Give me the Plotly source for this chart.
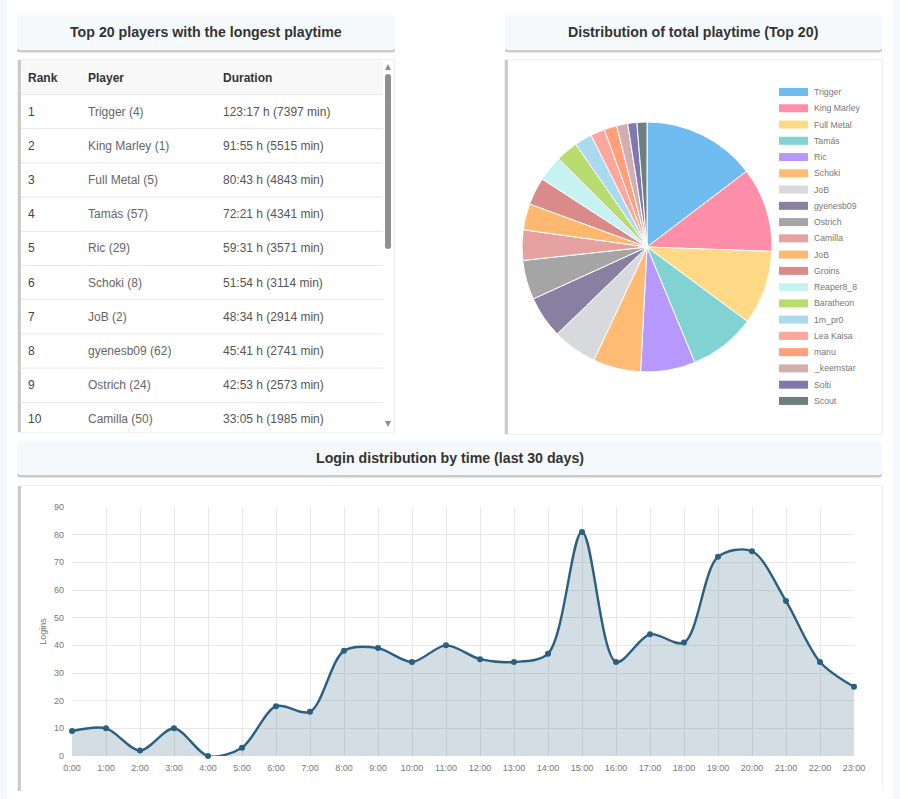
import plotly.graph_objects as go

# table (only rows visible without scrolling)
ranks = ["1", "2", "3", "4", "5", "6", "7", "8", "9", "10"]
players = ["Trigger (4)", "King Marley (1)", "Full Metal (5)", "Tamás (57)", "Ric (29)",
           "Schoki (8)", "JoB (2)", "gyenesb09 (62)", "Ostrich (24)", "Camilla (50)"]
durations = ["123:17 h (7397 min)", "91:55 h (5515 min)", "80:43 h (4843 min)", "72:21 h (4341 min)",
             "59:31 h (3571 min)", "51:54 h (3114 min)", "48:34 h (2914 min)", "45:41 h (2741 min)",
             "42:53 h (2573 min)", "33:05 h (1985 min)"]

# pie
pie_labels = ["Trigger", "King Marley", "Full Metal", "Tamás", "Ric", "Schoki", "JoB", "gyenesb09",
              "Ostrich", "Camilla", "JoB", "Groins", "Reaper8_8", "Baratheon", "1m_pr0", "Lea Kaisa",
              "manu", "_keemstar", "Solti", "Scout"]
pie_minutes = [7397, 5515, 4843, 4341, 3571, 3114, 2914, 2741, 2573, 1985,
               1710, 1800, 1690, 1440, 1140, 930, 830, 720, 600, 650]
pie_colors = ["#70bbef", "#ff8fa8", "#ffd985", "#81d2d2", "#b799fe", "#ffba74", "#d8d9dd", "#8980a1",
              "#a5a5a5", "#e5a0a0", "#ffb870", "#db8a8a", "#c6f3f1", "#b9dc6e", "#a9daf0", "#ffa69e",
              "#ffa07a", "#d2aeb0", "#8278b0", "#6c8080"]

# logins per hour
hours = [f"{h}:00" for h in range(24)]
logins = [9, 10, 2, 10, 0, 3, 18, 16, 38, 39, 34, 40, 35, 34, 37, 81, 34, 44, 41, 72, 74, 56, 34, 25]

# page keeps its 8px body margin, so the figure is the window minus that
W, H = 884, 783
OFF = 8
FONT = "Liberation Sans, Arial, sans-serif"


def px(x):
    return (x - OFF) / W


def py(y):
    return 1 - (y - OFF) / H


def rect(x0, y0, x1, y1, fill, r=0):
    # rounded box in pixel coordinates of the screenshot
    if r:
        path = (f"M{px(x0 + r)},{py(y0)} L{px(x1 - r)},{py(y0)} Q{px(x1)},{py(y0)} {px(x1)},{py(y0 + r)} "
                f"L{px(x1)},{py(y1 - r)} Q{px(x1)},{py(y1)} {px(x1 - r)},{py(y1)} "
                f"L{px(x0 + r)},{py(y1)} Q{px(x0)},{py(y1)} {px(x0)},{py(y1 - r)} "
                f"L{px(x0)},{py(y0 + r)} Q{px(x0)},{py(y0)} {px(x0 + r)},{py(y0)} Z")
        return dict(type="path", path=path, xref="paper", yref="paper", fillcolor=fill,
                    line_width=0, layer="below")
    return dict(type="rect", xref="paper", yref="paper", x0=px(x0), x1=px(x1), y0=py(y0), y1=py(y1),
                fillcolor=fill, line_width=0, layer="below")


shapes = []

title_boxes = [(17, 15, 395, 50, "Top 20 players with the longest playtime"),
               (505, 15, 882, 50, "Distribution of total playtime (Top 20)"),
               (17, 441, 882, 475, "Login distribution by time (last 30 days)")]
content_boxes = [(18, 60, 394, 432), (505, 60, 882, 434), (18, 486, 882, 792)]

annotations = []
for x0, y0, x1, y1, txt in title_boxes:
    shapes.append(rect(x0, y0 + 3, x1, y1 + 2.5, "#c9c9c9", 3))
    shapes.append(rect(x0, y0, x1, y1, "#f6f9fc", 3))
    annotations.append(dict(text=f"<b>{txt}</b>", x=px((x0 + x1) / 2), y=py((y0 + y1) / 2 - 0.5),
                            xref="paper", yref="paper", xanchor="center", yanchor="middle",
                            showarrow=False, font=dict(family=FONT, size=14.2, color="#333333")))
for x0, y0, x1, y1 in content_boxes:
    shapes.append(rect(x0 - 1, y0 - 1, x1 + 1, y1 + 1, "#efefef", 3))
    shapes.append(rect(x0, y0, x1, y1, "#ffffff", 3))
    shapes.append(rect(x0, y0, x0 + 3, y1, "#cccccc"))

# table header band, row rules and fake scrollbar
row_h = 34.2
shapes.append(rect(21, 60, 383, 94, "#f8f8f8"))
for i in range(len(ranks)):
    yy = 94.5 + i * row_h
    shapes.append(dict(type="line", xref="paper", yref="paper", x0=px(21), x1=px(383), y0=py(yy), y1=py(yy),
                       line=dict(color="#e8e8e8", width=1), layer="below"))
shapes.append(rect(385, 74, 391, 249, "#8f8f8f", 3))
shapes.append(dict(type="path", xref="paper", yref="paper", fillcolor="#8f8f8f", line_width=0,
                   path=f"M{px(385)},{py(70)} L{px(391)},{py(70)} L{px(388)},{py(64)} Z"))
shapes.append(dict(type="path", xref="paper", yref="paper", fillcolor="#8f8f8f", line_width=0,
                   path=f"M{px(385)},{py(421)} L{px(391)},{py(421)} L{px(388)},{py(427)} Z"))

# pie legend drawn chart.js style
for i, (lab, col) in enumerate(zip(pie_labels, pie_colors)):
    yy = 92 + i * 16.26
    shapes.append(rect(779, yy - 4, 808, yy + 4, col))
    annotations.append(dict(text=lab, x=px(811.5), y=py(yy), xref="paper", yref="paper", xanchor="left",
                            yanchor="middle", showarrow=False, font=dict(family=FONT, size=8.7, color="#777777")))

fig = go.Figure()

# table text sits at the top of its cell, so the domain starts lower than the band
fig.add_trace(go.Table(
    domain=dict(x=[px(20), px(383)], y=[py(441), py(63)]),
    columnwidth=[60, 135, 168],
    header=dict(values=["<b>Rank</b>", "<b>Player</b>", "<b>Duration</b>"], height=35.5, align="left",
                fill_color="rgba(0,0,0,0)", line_width=0, font=dict(family=FONT, size=12, color="#333333")),
    cells=dict(values=[ranks, players, durations], height=row_h, align="left",
               fill_color="rgba(0,0,0,0)", line_width=0,
               font=dict(family=FONT, size=12, color=["#444444", "#666666", "#555555"])),
))

# plotly merges equal labels, the second JoB needs to stay its own slice
fig.add_trace(go.Pie(
    labels=[lab + " " * i for i, lab in enumerate(pie_labels)], values=pie_minutes,
    sort=False, direction="clockwise", rotation=0,
    marker=dict(colors=pie_colors, line=dict(color="#ffffff", width=1)),
    textinfo="none", showlegend=False,
    domain=dict(x=[px(522), px(772)], y=[py(372), py(122)]),
))

fig.add_trace(go.Scatter(
    x=hours, y=logins, mode="lines+markers", name="Logins", showlegend=False,
    line=dict(color="#2a5f7f", width=2.4, shape="spline", smoothing=0.9),
    marker=dict(color="#2a5f7f", size=6),
    fill="tozeroy", fillcolor="rgba(42,95,127,0.21)", cliponaxis=False,
))

fig.update_layout(
    width=W, height=H, margin=dict(l=0, r=0, t=0, b=0, autoexpand=False),
    paper_bgcolor="#ffffff", plot_bgcolor="#ffffff",
    shapes=shapes, annotations=annotations, font=dict(family=FONT),
    xaxis=dict(domain=[px(72), px(854)], anchor="y", type="category", categoryorder="array", categoryarray=hours,
               range=[0, 23], showgrid=True, gridcolor="#e8e8e8", gridwidth=1, zeroline=False,
               showline=False, ticks="", tickangle=0, ticklabelstandoff=5,
               tickfont=dict(size=9, color="#777777")),
    yaxis=dict(domain=[py(756), py(507)], anchor="x", range=[0, 90], dtick=10, showgrid=True,
               gridcolor="#e8e8e8", gridwidth=1, zeroline=False, showline=False, ticks="",
               ticklabelstandoff=7, tickfont=dict(size=9, color="#777777"),
               title=dict(text="Logins", font=dict(size=9, color="#777777"), standoff=5)),
)

fig.write_html("out.html", config={"displayModeBar": False},
               post_script="document.body.style.background="
                           "'linear-gradient(90deg,#f5f9fd 7px,#fff 7px,#fff 893px,#f5f9fd 893px)';")
